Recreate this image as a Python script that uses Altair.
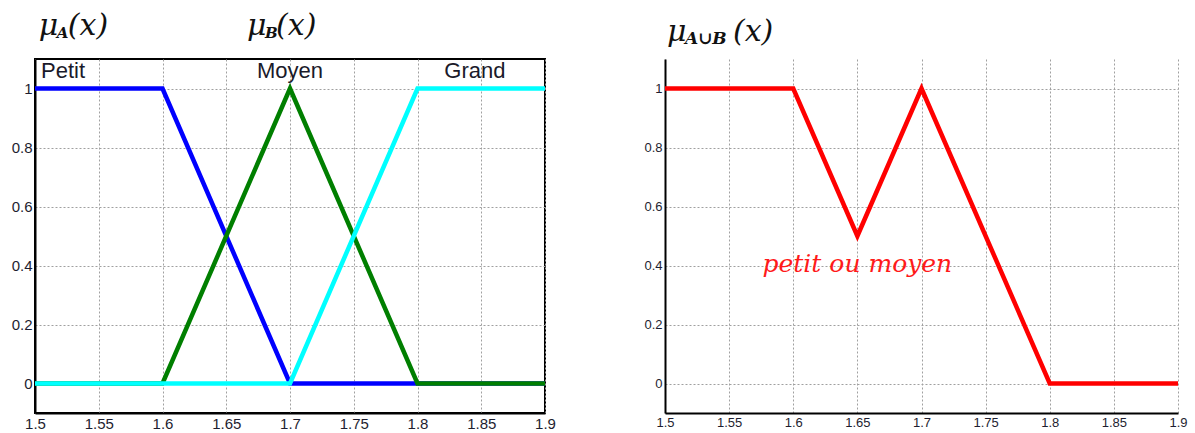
import altair as alt
import pandas as pd

# ---- data ----
x_ticks = [1.5, 1.55, 1.6, 1.65, 1.7, 1.75, 1.8, 1.85, 1.9]
y_ticks = [0, 0.2, 0.4, 0.6, 0.8, 1]

petit_x = [1.5, 1.6, 1.7, 1.9]
petit_y = [1, 1, 0, 0]
moyen_x = [1.5, 1.6, 1.7, 1.8, 1.9]
moyen_y = [0, 0, 1, 0, 0]
grand_x = [1.5, 1.7, 1.8, 1.9]
grand_y = [0, 0, 1, 1]
union_x = [1.5, 1.6, 1.65, 1.7, 1.8, 1.9]
union_y = [1, 1, 0.5, 1, 0, 0]

petit_label = ["Petit"]
petit_label_x = [1.5047]
center_labels = ["Moyen", "Grand"]
center_labels_x = [1.7, 1.845]
set_label_y = 1.061

left_titles_sub = ["A", "B"]
left_titles_x = [1.503, 1.6663]
left_titles_y = [1.212, 1.212]
right_title_sub = ["A∪B"]
right_title_x = [1.5015]
right_title_y = [1.19]

union_note = ["petit ou moyen"]
union_note_x = [1.65]
union_note_y = [0.405]

# ---- helpers ----
XDOM = [1.5, 1.9]
YDOM = [-0.1, 1.1]
SERIF = "DejaVu Serif"


def xenc(label_size):
    return alt.X(
        "x:Q",
        scale=alt.Scale(domain=XDOM, nice=False, zero=False),
        axis=alt.Axis(
            values=x_ticks, format=".2~f", grid=True, gridDash=[2, 2],
            gridColor="#a0a0a0", gridWidth=1, ticks=False, domainColor="black",
            domainWidth=2, labelFont="Liberation Sans", labelFontSize=label_size,
            labelColor="#1e1e30", labelPadding=3, title=None, labelFlush=False,
        ),
    )


def yenc(label_size):
    return alt.Y(
        "y:Q",
        scale=alt.Scale(domain=YDOM, nice=False, zero=False),
        axis=alt.Axis(
            values=y_ticks, format="~g", grid=True, gridDash=[2, 2],
            gridColor="#a0a0a0", gridWidth=1, ticks=False, domainColor="black",
            domainWidth=2, labelFont="Liberation Sans", labelFontSize=label_size,
            labelColor="#1e1e30", labelPadding=3, title=None,
        ),
    )


def line_layer(xs, ys, color, size):
    df = pd.DataFrame({"x": xs, "y": ys})
    return alt.Chart(df).mark_line(color=color, strokeWidth=4.5, clip=True).encode(
        x=xenc(size), y=yenc(size)
    )


def title_layers(xs, ys, subs, sub_size, paren_dx):
    df = pd.DataFrame({"x": xs, "y": ys, "sub": subs})
    base = alt.Chart(df)
    mu = base.mark_text(
        text="μ", font=SERIF, fontStyle="italic", fontSize=30,
        align="left", baseline="middle", color="#111111",
    ).encode(x="x:Q", y="y:Q")
    sub = base.mark_text(
        font=SERIF, fontStyle="italic", fontWeight="bold", fontSize=sub_size,
        align="left", baseline="middle", color="#111111", dx=18, dy=7,
    ).encode(x="x:Q", y="y:Q", text="sub:N")
    par = base.mark_text(
        text="(x)", font=SERIF, fontStyle="italic", fontSize=30,
        align="left", baseline="middle", color="#111111", dx=paren_dx,
    ).encode(x="x:Q", y="y:Q")
    return [mu, sub, par]


# ---- left chart ----
petit_df = pd.DataFrame({"x": petit_label_x, "y": [set_label_y], "t": petit_label})
petit_text = alt.Chart(petit_df).mark_text(
    font="Liberation Sans", fontSize=22, baseline="middle", align="left", color="#1a1a2a"
).encode(x="x:Q", y="y:Q", text="t:N")
center_df = pd.DataFrame({"x": center_labels_x, "y": [set_label_y] * 2, "t": center_labels})
center_text = alt.Chart(center_df).mark_text(
    font="Liberation Sans", fontSize=22, baseline="middle", align="center", color="#1a1a2a"
).encode(x="x:Q", y="y:Q", text="t:N")

left_titles = []
for i in range(len(left_titles_sub)):
    left_titles += title_layers([left_titles_x[i]], [left_titles_y[i]], [left_titles_sub[i]], 15, 29)

left = alt.layer(
    line_layer(petit_x, petit_y, "#0000ff", 15),
    line_layer(moyen_x, moyen_y, "#007f00", 15),
    line_layer(grand_x, grand_y, "#00ffff", 15),
    petit_text,
    center_text,
    *left_titles,
).properties(
    width=510, height=354,
    view=alt.ViewBackground(stroke="black", strokeWidth=2),
)

# ---- right chart ----
note_df = pd.DataFrame({"x": union_note_x, "y": union_note_y, "t": union_note})
note = alt.Chart(note_df).mark_text(
    font=SERIF, fontStyle="italic", fontSize=25, color="#ff1a1a",
    align="center", baseline="middle",
).encode(x="x:Q", y="y:Q", text="t:N")

right = alt.layer(
    line_layer(union_x, union_y, "#ff0000", 13),
    note,
    *title_layers(right_title_x, right_title_y, right_title_sub, 17, 66),
).properties(
    width=513, height=354,
    view=alt.ViewBackground(stroke="transparent", strokeWidth=0),
)

chart = alt.hconcat(left, right, spacing=86).properties(
    padding={"left": 10, "top": 9, "right": 5, "bottom": 5},
    background="white",
).configure_view(stroke="transparent")

chart.save("out.html", embed_options={"renderer": "svg", "actions": False})
